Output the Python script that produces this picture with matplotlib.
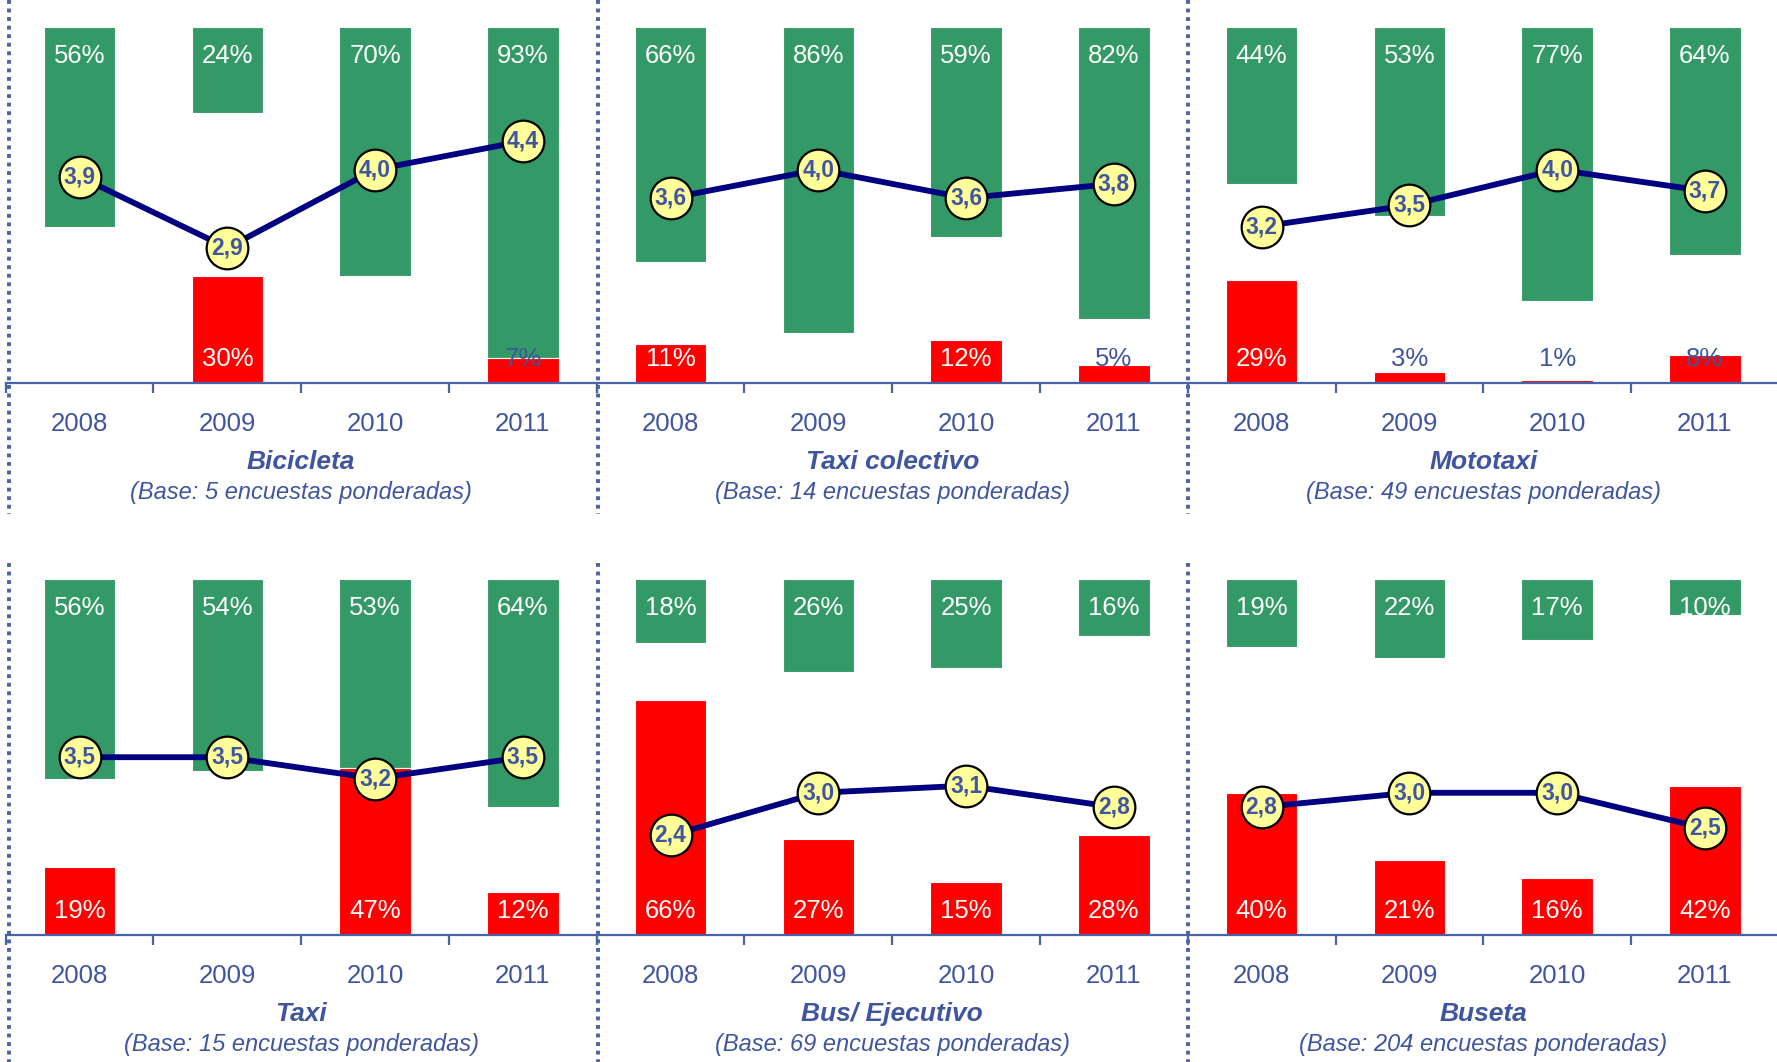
import matplotlib
matplotlib.use("Agg")
import matplotlib.pyplot as plt
from matplotlib.lines import Line2D
import numpy as np

plt.rcParams['font.family'] = ['Liberation Sans', 'DejaVu Sans']

# data
modes = ['Bicicleta', 'Taxi colectivo', 'Mototaxi', 'Taxi', 'Bus/ Ejecutivo', 'Buseta']
bases = [5, 14, 49, 15, 69, 204]
years = ['2008', '2009', '2010', '2011']
satisfied = [[56, 24, 70, 93], [66, 86, 59, 82], [44, 53, 77, 64],
             [56, 54, 53, 64], [18, 26, 25, 16], [19, 22, 17, 10]]
unsatisfied = [[0, 30, 0, 7], [11, 0, 12, 5], [29, 3, 1, 8],
               [19, 0, 47, 12], [66, 27, 15, 28], [40, 21, 16, 42]]
scores = [[3.9, 2.9, 4.0, 4.4], [3.6, 4.0, 3.6, 3.8], [3.2, 3.5, 4.0, 3.7],
          [3.5, 3.5, 3.2, 3.5], [2.4, 3.0, 3.1, 2.8], [2.8, 3.0, 3.0, 2.5]]

GREEN = '#339966'
RED = '#FF0000'
NAVY = '#000080'
BLUE_TXT = '#3F55A0'
AXIS_C = '#4A63A8'

fig = plt.figure(figsize=(17.77, 10.62), dpi=100)
fig.patch.set_facecolor('white')

col_left = [0.0032, 0.3358, 0.6684]
col_w = 0.3326
row_bottom = [0.6393, 0.1195]
row_h = 0.335

x = np.arange(len(years))

for k in range(6):
    r, c = divmod(k, 3)
    ax = fig.add_axes([col_left[c], row_bottom[r], col_w, row_h])
    g = np.array(satisfied[k]) / 100
    u = np.array(unsatisfied[k]) / 100

    ax.bar(x, g, bottom=1 - g, width=0.483, color=GREEN,
           edgecolor='white', linewidth=0.8, zorder=2)
    ax.bar(x, u, width=0.483, color=RED,
           edgecolor='white', linewidth=0.8, zorder=2)
    ax.set_xlim(-0.5, 3.5)
    ax.set_ylim(0, 1)

    for i in range(len(years)):
        ax.text(x[i], 0.92, f"{satisfied[k][i]}%", ha='center', va='center',
                color='white', fontsize=18.5, zorder=3)
        if unsatisfied[k][i] > 0:
            col = 'white' if unsatisfied[k][i] >= 10 else BLUE_TXT
            ax.text(x[i], 0.067, f"{unsatisfied[k][i]}%", ha='center',
                    va='center', color=col, fontsize=18.5, zorder=3)

    for s in ['top', 'left', 'right']:
        ax.spines[s].set_visible(False)
    ax.spines['bottom'].set_color(AXIS_C)
    ax.spines['bottom'].set_linewidth(1.6)
    ax.set_yticks([])
    ax.set_xticks(x, years)
    ax.set_xticks(np.arange(-0.5, 4, 1), minor=True)
    ax.tick_params(axis='x', which='major', length=0, pad=20.5,
                   labelsize=18.5, labelcolor=BLUE_TXT)
    ax.tick_params(axis='x', which='minor', length=7, width=1.6,
                   color=AXIS_C, direction='out')

    ax.text(0.5, -0.221, modes[k], transform=ax.transAxes, ha='center',
            va='center', fontsize=19, fontweight='bold', fontstyle='italic',
            color=BLUE_TXT)
    ax.text(0.5, -0.307, f"(Base: {bases[k]} encuestas ponderadas)",
            transform=ax.transAxes, ha='center', va='center', fontsize=17,
            fontstyle='italic', color=BLUE_TXT)

    ax2 = ax.twinx()
    ax2.set_ylim(1, 6)
    ax2.plot(x, scores[k], color=NAVY, linewidth=4.2, marker='o',
             markersize=30, markerfacecolor='#FFFF99', markeredgecolor='black',
             markeredgewidth=1.6, zorder=4)
    for i, v in enumerate(scores[k]):
        ax2.text(x[i], v, f"{v:.1f}".replace('.', ','), ha='center',
                 va='center', fontsize=16.5, fontweight='bold', color=BLUE_TXT,
                 zorder=5)
    ax2.axis('off')

# dotted separators between panels
for xs in [0.0051, 0.3367, 0.6684]:
    fig.add_artist(Line2D([xs, xs], [1.0, 0.516], color=AXIS_C,
                          linewidth=2.8, linestyle=(0, (1, 1.2))))
    fig.add_artist(Line2D([xs, xs], [0.470, 0.0], color=AXIS_C,
                          linewidth=2.8, linestyle=(0, (1, 1.2))))

fig.savefig('out.png', dpi=100, facecolor='white')
